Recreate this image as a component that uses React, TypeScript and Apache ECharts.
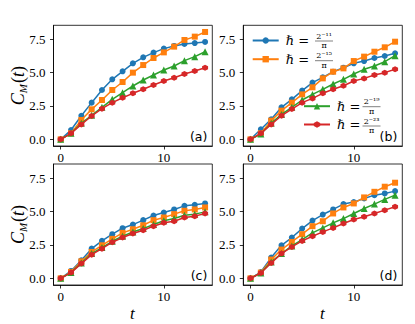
import React, { useEffect, useRef } from 'react';
import * as echarts from 'echarts';

const T = [0, 1, 2, 3, 4, 5, 6, 7, 8, 9, 10, 11, 12, 13, 14];
const X_TICKS = [0, 10];
const Y_TICKS = [0, 2.5, 5, 7.5];
const PANEL_LABELS = ['(a)', '(b)', '(c)', '(d)'];
const SERIES_NAMES = ['h11', 'h15', 'h19', 'h23'];
const NUMERATORS = ['2⁻¹¹', '2⁻¹⁵', '2⁻¹⁹', '2⁻²³'];

// panel (a)
const A_BLUE = [0, 0.7, 1.77, 2.75, 3.7, 4.5, 5.1, 5.7, 6.15, 6.5, 6.8, 7.0, 7.15, 7.22, 7.3];
const A_ORANGE = [0, 0.45, 1.45, 2.25, 2.95, 3.7, 4.3, 5.0, 5.57, 6.1, 6.52, 6.95, 7.45, 7.7, 8.05];
const A_GREEN = [0, 0.45, 1.2, 1.8, 2.4, 3.0, 3.5, 4.0, 4.45, 4.82, 5.2, 5.5, 5.9, 6.2, 6.57];
const A_RED = [0, 0.45, 1.12, 1.75, 2.3, 2.75, 3.12, 3.45, 3.75, 4.07, 4.37, 4.62, 4.9, 5.12, 5.37];
// panel (b)
const B_BLUE = [0, 0.75, 1.5, 2.4, 3.0, 3.65, 4.25, 4.65, 5.07, 5.37, 5.7, 5.87, 6.1, 6.25, 6.45];
const B_ORANGE = [0, 0.45, 1.4, 2.15, 2.75, 3.37, 3.9, 4.57, 5.07, 5.32, 5.87, 6.2, 6.57, 6.9, 7.32];
const B_GREEN = [0, 0.4, 1.2, 1.87, 2.4, 2.95, 3.37, 3.75, 4.15, 4.5, 4.9, 5.25, 5.5, 5.82, 6.27];
const B_RED = [0, 0.45, 1.12, 1.77, 2.27, 2.75, 3.07, 3.45, 3.75, 4.02, 4.37, 4.57, 4.82, 5.0, 5.25];
// panel (c)
const C_BLUE = [0, 0.55, 1.35, 2.22, 2.8, 3.3, 3.75, 4.02, 4.35, 4.7, 4.92, 5.15, 5.42, 5.5, 5.6];
const C_ORANGE = [0, 0.48, 1.27, 1.97, 2.47, 2.95, 3.4, 3.67, 3.97, 4.35, 4.55, 4.8, 5.05, 5.15, 5.3];
const C_GREEN = [0, 0.43, 1.15, 1.85, 2.3, 2.77, 3.15, 3.47, 3.72, 4.02, 4.3, 4.47, 4.72, 4.8, 4.97];
const C_RED = [0, 0.43, 1.1, 1.77, 2.22, 2.7, 3.05, 3.35, 3.6, 3.9, 4.15, 4.27, 4.55, 4.65, 4.85];
// panel (d)
const D_BLUE = [0, 0.47, 1.55, 2.47, 3.05, 3.72, 4.32, 4.77, 5.15, 5.55, 5.7, 5.97, 6.22, 6.35, 6.52];
const D_ORANGE = [0, 0.43, 1.4, 2.15, 2.72, 3.3, 3.9, 4.27, 4.85, 5.3, 5.6, 6.05, 6.47, 6.85, 7.15];
const D_GREEN = [0, 0.4, 1.22, 1.85, 2.42, 2.9, 3.4, 3.77, 4.15, 4.47, 4.85, 5.22, 5.55, 5.9, 6.22];
const D_RED = [0, 0.4, 1.15, 1.85, 2.35, 2.8, 3.15, 3.47, 3.77, 4.1, 4.4, 4.6, 4.85, 5.1, 5.35];

const PANELS = [
  [A_BLUE, A_ORANGE, A_GREEN, A_RED],
  [B_BLUE, B_ORANGE, B_GREEN, B_RED],
  [C_BLUE, C_ORANGE, C_GREEN, C_RED],
  [D_BLUE, D_ORANGE, D_GREEN, D_RED],
];

const COLORS = ['#1f77b4', '#ff7f0e', '#2ca02c', '#d62728'];
const HEX = 'path://M0,-1 L0.866,-0.5 L0.866,0.5 L0,1 L-0.866,0.5 L-0.866,-0.5 Z';
const SYMBOLS = ['circle', 'rect', 'triangle', HEX];
const SYMBOL_SIZES = [6, 6, 7, 6];

const GRIDS = [
  { left: 53.5, top: 25.3, width: 158.8, height: 120.7 },
  { left: 243.3, top: 25.3, width: 159, height: 120.7 },
  { left: 53.5, top: 164, width: 158.8, height: 121 },
  { left: 243.3, top: 164, width: 159, height: 121 },
];

const SERIF = 'Liberation Serif';

export default function App() {
  const ref = useRef<HTMLDivElement>(null);
  useEffect(() => {
    if (!ref.current) return;
    const chart = echarts.init(ref.current, null, { renderer: 'svg' });

    const xAxis = GRIDS.map((_, i) => ({
      type: 'value',
      gridIndex: i,
      min: -0.7,
      max: 14.7,
      splitLine: { show: false },
      axisLine: { show: true, onZero: false, lineStyle: { color: '#000', width: 0.8 } },
      axisTick: { show: true, length: 3.5, customValues: X_TICKS, lineStyle: { color: '#000', width: 0.8 } },
      axisLabel: {
        customValues: X_TICKS,
        margin: 5,
        color: '#000',
        fontFamily: SERIF,
        fontSize: 13,
        formatter: (v: number) => String(v),
      },
    }));
    const yAxis = GRIDS.map((_, i) => ({
      type: 'value',
      gridIndex: i,
      min: -0.5,
      max: 8.55,
      splitLine: { show: false },
      axisLine: { show: true, onZero: false, lineStyle: { color: '#000', width: 0.8 } },
      axisTick: { show: true, length: 3.5, customValues: Y_TICKS, lineStyle: { color: '#000', width: 0.8 } },
      axisLabel: {
        customValues: Y_TICKS,
        margin: 8,
        color: '#000',
        fontFamily: SERIF,
        fontSize: 13,
        formatter: (v: number) => v.toFixed(1),
      },
    }));

    const series: any[] = [];
    PANELS.forEach((panel, p) => {
      panel.forEach((vals, k) => {
        series.push({
          type: 'line',
          name: SERIES_NAMES[k],
          xAxisIndex: p,
          yAxisIndex: p,
          data: T.map((t, j) => [t, vals[j]]),
          symbol: SYMBOLS[k],
          symbolSize: SYMBOL_SIZES[k],
          showSymbol: true,
          color: COLORS[k],
          lineStyle: { color: COLORS[k], width: 1.5 },
          itemStyle: { color: COLORS[k] },
          z: 2 + k,
        });
      });
    });

    const legendBase = {
      orient: 'vertical',
      itemWidth: 26,
      itemHeight: 8,
      padding: 0,
      selectedMode: false,
      formatter: () => '{h|ℏ =}',
      textStyle: {
        color: '#000',
        rich: { h: { fontFamily: 'DejaVu Serif', fontSize: 13, lineHeight: 14, color: '#000', padding: [0, 0, 0, 2] } },
      },
    };

    const graphic: any[] = [];
    // panel labels
    GRIDS.forEach((g, i) => {
      graphic.push({
        type: 'text',
        x: g.left + g.width - 5,
        y: g.top + g.height - 9.5,
        style: {
          text: PANEL_LABELS[i],
          fontFamily: 'DejaVu Sans',
          fontSize: 12.5,
          fill: '#000',
          align: 'right',
          verticalAlign: 'middle',
        },
      });
    });
    // fractions in legend
    const FRAC_POS = [
      { x: 324, y: 41 },
      { x: 324, y: 60.7 },
      { x: 371.5, y: 106.7 },
      { x: 371.5, y: 126 },
    ];
    FRAC_POS.forEach((f, k) => {
      graphic.push({
        type: 'text',
        x: f.x,
        y: f.y - 4.8,
        style: { text: NUMERATORS[k], fontFamily: 'DejaVu Serif', fontSize: 8, fill: '#000', align: 'center', verticalAlign: 'middle' },
      });
      graphic.push({
        type: 'line',
        shape: { x1: f.x - 9, y1: f.y, x2: f.x + 9, y2: f.y },
        style: { stroke: '#000', lineWidth: 0.5 },
      });
      graphic.push({
        type: 'text',
        x: f.x,
        y: f.y + 4.8,
        style: { text: 'π', fontFamily: 'DejaVu Serif', fontSize: 8, fill: '#000', align: 'center', verticalAlign: 'middle' },
      });
    });
    // y labels
    [GRIDS[0], GRIDS[2]].forEach((g) => {
      graphic.push({
        type: 'text',
        x: 18,
        y: g.top + g.height / 2,
        rotation: Math.PI / 2,
        style: {
          text: '{c|C}{m|M}{p|(}{t|t}{p|)}',
          align: 'center',
          verticalAlign: 'middle',
          fill: '#000',
          rich: {
            c: { fontFamily: SERIF, fontStyle: 'italic', fontSize: 18, lineHeight: 20, verticalAlign: 'middle' },
            m: { fontFamily: SERIF, fontStyle: 'italic', fontSize: 11, lineHeight: 20, verticalAlign: 'bottom', padding: [6, 1, 0, 0] },
            p: { fontFamily: SERIF, fontSize: 18, lineHeight: 20, verticalAlign: 'middle' },
            t: { fontFamily: SERIF, fontStyle: 'italic', fontSize: 18, lineHeight: 20, verticalAlign: 'middle' },
          },
        },
      });
    });
    // x labels
    [GRIDS[2], GRIDS[3]].forEach((g) => {
      graphic.push({
        type: 'text',
        x: g.left + g.width / 2 - 0.5,
        y: 313,
        style: { text: 't', fontFamily: SERIF, fontStyle: 'italic', fontSize: 17, fill: '#000', align: 'center', verticalAlign: 'middle' },
      });
    });

    chart.setOption({
      animation: false,
      backgroundColor: '#fff',
      grid: GRIDS.map((g) => ({ ...g, show: true, borderColor: '#000', borderWidth: 0.8, backgroundColor: 'transparent' })),
      xAxis,
      yAxis,
      series,
      legend: [
        { ...legendBase, left: 251.7, top: 34, itemGap: 5.7, data: [SERIES_NAMES[0], SERIES_NAMES[1]] },
        { ...legendBase, left: 303, top: 99.7, itemGap: 5.3, data: [SERIES_NAMES[2], SERIES_NAMES[3]] },
      ],
      graphic,
    });
    return () => chart.dispose();
  }, []);
  return <div ref={ref} style={{ position: 'absolute', left: 0, top: 0, width: 415, height: 324 }} />;
}
